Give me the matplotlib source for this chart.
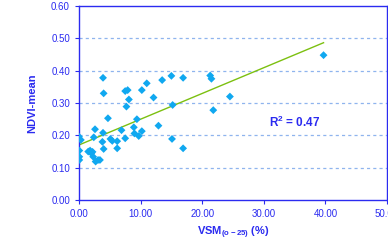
import numpy as np
import matplotlib
matplotlib.use("Agg")
import matplotlib.pyplot as plt

plt.rcParams['font.family'] = ['Liberation Sans', 'DejaVu Sans']
plt.rcParams['mathtext.fontset'] = 'custom'
plt.rcParams['mathtext.rm'] = 'Liberation Sans:bold'
plt.rcParams['mathtext.bf'] = 'Liberation Sans:bold'
plt.rcParams['mathtext.default'] = 'bf'

# VSM (0-25 cm) in %, NDVI mean
vsm = [0.0, 0.3, 0.05, 0.05, 0.05, 1.8, 2.2, 2.3, 2.6, 2.4,
       2.7, 3.1, 3.4, 3.9, 4.0, 3.9, 3.8, 4.0, 4.7, 5.1,
       5.4, 6.2, 6.2, 6.9, 7.5, 7.5, 7.9, 7.7, 8.1, 8.9,
       9.0, 9.4, 9.7, 10.2, 10.2, 11.0, 12.1, 12.9, 13.5, 15.0,
       15.2, 15.1, 16.9, 16.9, 21.3, 21.5, 24.5, 21.8, 39.7, 1.5,
       2.0]
ndvi = [0.196, 0.186, 0.153, 0.134, 0.124, 0.153, 0.149, 0.134, 0.219, 0.194,
        0.119, 0.124, 0.124, 0.378, 0.330, 0.208, 0.180, 0.158, 0.253, 0.189,
        0.183, 0.160, 0.182, 0.216, 0.191, 0.337, 0.340, 0.289, 0.311, 0.225,
        0.206, 0.250, 0.198, 0.340, 0.213, 0.361, 0.317, 0.230, 0.371, 0.384,
        0.294, 0.189, 0.378, 0.160, 0.385, 0.375, 0.320, 0.278, 0.448, 0.150,
        0.145]

x_ticks = [0, 10, 20, 30, 40, 50]
y_ticks = [0.0, 0.1, 0.2, 0.3, 0.4, 0.5, 0.6]
r2_text = "R$^2$ = 0.47"

blue = '#2b2bf0'

fig = plt.figure(figsize=(3.88, 2.47), dpi=100)
ax = fig.add_axes([0.2036, 0.190, 0.7938, 0.7857])

# dashed horizontal grid
for yv in y_ticks[1:-1]:
    ax.axhline(yv, color='#8fb4ee', lw=0.9, ls=(0, (2.5, 2.5)), zorder=1)

ax.scatter(vsm, ndvi, marker='D', s=16, color='#10a8f0', edgecolors='none', zorder=3)

# linear trend line
slope, intercept = np.polyfit(vsm, ndvi, 1)
xs = np.array([0, max(vsm)])
ax.plot(xs, intercept + slope * xs, color='#7cc010', lw=1.0, zorder=2)

ax.text(35, 0.241, r2_text, color=blue, fontsize=8.5, fontweight='bold',
        ha='center', va='center')

ax.set_xlim(0, 50)
ax.set_ylim(0, 0.6)
ax.set_xticks(x_ticks)
ax.set_yticks(y_ticks)
ax.set_xticklabels(['%.2f' % v for v in x_ticks])
ax.set_yticklabels(['%.2f' % v for v in y_ticks])
ax.tick_params(colors=blue, labelsize=7, length=3, width=0.8, direction='out')
for s in ax.spines.values():
    s.set_color(blue)
    s.set_linewidth(1.0)

ax.set_xlabel('VSM$_{(o-25)}$ (%)', color=blue, fontsize=8, fontweight='bold')
ax.set_ylabel('NDVI-mean', color=blue, fontsize=8, fontweight='bold', labelpad=10)

fig.savefig('out.png', dpi=100)
